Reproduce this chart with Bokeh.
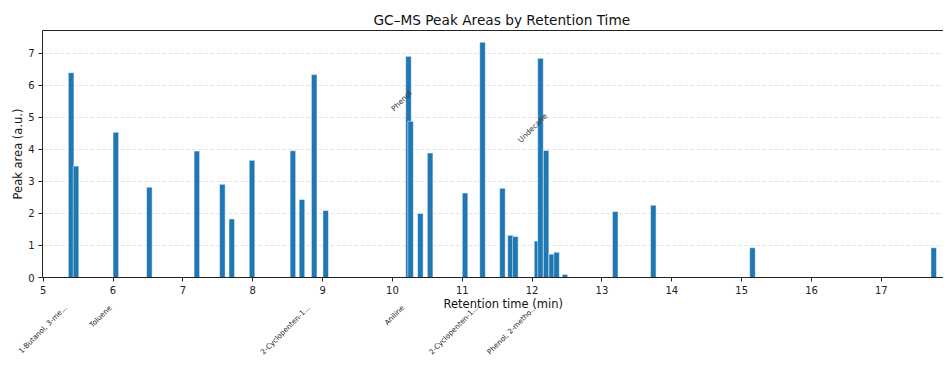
import math
from bokeh.plotting import figure
from bokeh.models import Range1d, LinearAxis, FixedTicker, Title
from bokeh.embed import file_html
from bokeh.resources import INLINE
from bokeh.core.properties import value

# ---- data ----
retention_time = [5.40, 5.47, 6.04, 6.52, 7.20, 7.565, 7.70, 7.99, 8.575, 8.705,
                  8.88, 9.045, 10.23, 10.26, 10.40, 10.54, 11.04, 11.29, 11.575,
                  11.69, 11.76, 12.07, 12.12, 12.20, 12.28, 12.35, 12.47, 13.19,
                  13.735, 15.155, 17.75]
peak_area = [6.40, 3.48, 4.54, 2.82, 3.95, 2.91, 1.83, 3.66, 3.96, 2.44,
             6.34, 2.09, 6.91, 4.88, 2.00, 3.89, 2.64, 7.35, 2.79,
             1.32, 1.28, 1.14, 6.85, 3.97, 0.73, 0.79, 0.09, 2.06,
             2.26, 0.93, 0.93]

compound_rt = [5.40, 6.04, 8.88, 10.23, 11.29, 12.12]
compound_names = ["1-Butanol, 3-me...", "Toluene", "2-Cyclopenten-1...",
                  "Aniline", "2-Cyclopenten-1...", "Phenol, 2-metho..."]

annot_rt = [10.26, 12.20]
annot_names = ["Phenol", "Undecane"]

x_ticks = [5, 6, 7, 8, 9, 10, 11, 12, 13, 14, 15, 16, 17]
y_ticks = [0, 1, 2, 3, 4, 5, 6, 7]

FONT = "DejaVu Sans"
INK = "#222222"
BAR = "#1f77b4"

y_top = max(peak_area) * 1.05

p = figure(width=943, height=362, output_backend="svg", toolbar_location=None,
           x_range=Range1d(4.99, 17.89), y_range=Range1d(0, y_top),
           min_border_left=42, min_border_right=0, min_border_top=30,
           min_border_bottom=0)

p.title.text = "GC\u2013MS Peak Areas by Retention Time"
p.title.text_font = FONT
p.title.text_font_size = "13.7px"
p.title.text_font_style = "normal"
p.title.text_color = "#111111"
p.title.align = "left"
p.title.offset = 331
p.title.standoff = 6

p.outline_line_color = None
p.background_fill_color = "white"
p.border_fill_color = "white"

p.xgrid.visible = False
p.ygrid.grid_line_color = "#b0b0b0"
p.ygrid.grid_line_alpha = 0.35
p.ygrid.grid_line_dash = "4 2"
p.ygrid.grid_line_width = 1

# bars
p.vbar(x=retention_time, top=peak_area, bottom=0, width=0.08,
       fill_color=BAR, line_color="white", line_width=0.5)

# x axis
xa = p.xaxis[0]
xa.ticker = FixedTicker(ticks=x_ticks)
xa.axis_line_color = INK
xa.major_tick_line_color = INK
xa.major_tick_out = 4
xa.major_tick_in = 0
xa.minor_tick_line_color = None
xa.major_label_text_font = FONT
xa.major_label_text_font_size = "10px"
xa.major_label_text_color = INK
xa.major_label_standoff = 4

# x axis title (as a below title so it can be placed like the reference)
x_title = Title(text="Retention time (min)", align="left", offset=401,
                vertical_align="top", standoff=0,
                text_font=FONT, text_font_size="11.5px",
                text_font_style="normal", text_color="#111111")
p.add_layout(x_title, "below")

# y axis
ya = p.yaxis[0]
ya.ticker = FixedTicker(ticks=y_ticks)
ya.axis_line_color = INK
ya.major_tick_line_color = INK
ya.major_tick_out = 4
ya.major_tick_in = 0
ya.minor_tick_line_color = None
ya.major_label_text_font = FONT
ya.major_label_text_font_size = "10px"
ya.major_label_text_color = INK
ya.major_label_standoff = 4
ya.axis_label = "Peak area (a.u.)"
ya.axis_label_text_font = FONT
ya.axis_label_text_font_size = "11.5px"
ya.axis_label_text_font_style = "normal"
ya.axis_label_text_color = "#111111"
ya.axis_label_standoff = 0

# top spine
top_ax = LinearAxis(ticker=FixedTicker(ticks=[]), axis_line_color=INK,
                    major_tick_out=0, major_tick_in=0, minor_tick_out=0,
                    minor_tick_in=0, major_label_standoff=0,
                    major_label_text_font_size="0px")
p.add_layout(top_ax, "above")

# compound name labels under the axis; the label ends sit slightly left of
# their peak, as in the reference
label_shift = 0.08
name_ticks = [r - label_shift for r in compound_rt]
name_ax = LinearAxis(ticker=FixedTicker(ticks=name_ticks),
                     major_label_overrides={t: n for t, n in zip(name_ticks, compound_names)},
                     major_label_orientation=math.pi / 4,
                     axis_line_color=None, major_tick_line_color=None,
                     minor_tick_line_color=None, major_tick_out=0, major_tick_in=0,
                     minor_tick_out=0, minor_tick_in=0,
                     major_label_standoff=-6,
                     major_label_text_font=FONT,
                     major_label_text_font_size="7.2px",
                     major_label_text_color=INK)
p.add_layout(name_ax, "below")

# peak annotations
area_by_rt = dict(zip(retention_time, peak_area))
ann_y = [area_by_rt[r] + 0.22 for r in annot_rt]
ann_px = 7.5
ann_yoff = [-0.707 * 0.6 * ann_px * len(n) for n in annot_names]
p.text(x=annot_rt, y=ann_y, text=annot_names, angle=math.pi / 4,
       text_align="right", text_baseline="bottom", x_offset=3, y_offset=ann_yoff,
       text_font=value(FONT), text_font_size=value(f"{ann_px}px"),
       text_color="#333333")

open("out.html", "w").write(file_html(p, INLINE))
